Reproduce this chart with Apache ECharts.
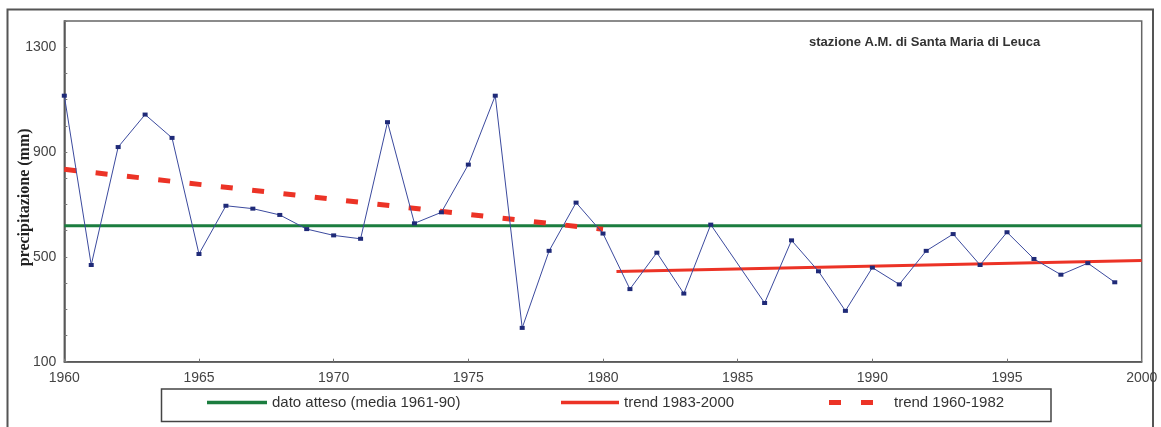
<!DOCTYPE html>
<html>
<head>
<meta charset="utf-8">
<script src="https://cdn.jsdelivr.net/npm/echarts@6/dist/echarts.min.js"></script>
<style>
html,body{margin:0;padding:0;background:#fff;}
#chart{width:1161px;height:427px;}
</style>
</head>
<body>
<div id="chart"></div>
<script>
// ---- data ----
const years = [1960,1961,1962,1963,1964,1965,1966,1967,1968,1969,
               1970,1971,1972,1973,1974,1975,1976,1977,1978,1979,
               1980,1981,1982,1983,1984,1985,1986,1987,1988,1989,
               1990,1991,1992,1993,1994,1995,1996,1997,1998,1999];
const precipitation = [1115,469,919,1043,954,511,695,684,660,606,
                       582,569,1014,628,670,852,1115,229,523,707,
                       589,377,516,360,623,null,324,563,445,294,
                       459,395,523,587,469,594,492,432,476,403];
const mediaX = [1960, 2000];
const mediaY = [619, 619];
const trend8300X = [1980.5, 2000];
const trend8300Y = [444, 486];
const trend6082X = [1960, 1980];
const trend6082Y = [834, 605];
const yLabels = [100, 500, 900, 1300];
const titleText = 'stazione A.M. di Santa Maria di Leuca';
const yName = 'precipitazione (mm)';
const names = ['dato atteso (media 1961-90)', 'trend 1983-2000', 'trend 1960-1982'];

const pairs = (xs, ys) => xs.map((x, i) => [x, ys[i]]);

const GREEN = '#1b7d3f';
const RED = '#ec3326';
const BLUE = '#3b4a9e';

const chart = echarts.init(document.getElementById('chart'));
const legendBase = {
  orient: 'horizontal', padding: 0, itemGap: 0,
  textStyle: {fontFamily: 'Liberation Sans', fontSize: 15, color: '#333'},
  selectedMode: false
};
chart.setOption({
  animation: false,
  backgroundColor: '#fff',
  title: {
    text: titleText, left: 809, top: 36, padding: 0,
    textStyle: {fontFamily: 'Liberation Sans', fontSize: 13, fontWeight: 'bold', color: '#333'}
  },
  grid: {
    left: 64.3, right: 19.3, top: 21, bottom: 65.3,
    containLabel: false, outerBoundsMode: 'none',
    show: true, borderColor: '#666', borderWidth: 1.5, backgroundColor: '#fff'
  },
  xAxis: {
    type: 'value', min: 1960, max: 2000, interval: 5,
    axisLine: {lineStyle: {color: '#555', width: 1.5}},
    axisTick: {inside: true, length: 3, lineStyle: {color: '#777'}},
    axisLabel: {fontFamily: 'Liberation Sans', fontSize: 14, color: '#444', margin: 9, showMaxLabel: true,
      formatter: v => String(v)},
    splitLine: {show: false}
  },
  yAxis: {
    type: 'value', min: 100, max: 1400, interval: 100,
    name: yName, nameLocation: 'middle', nameRotate: 90, nameGap: 31, nameMoveOverlap: false,
    nameTextStyle: {fontFamily: 'Liberation Serif', fontSize: 16, fontWeight: 'bold', color: '#222', padding: [0, 12, 0, 0]},
    axisLine: {show: true, lineStyle: {color: '#555', width: 1.5}},
    axisTick: {show: true, inside: true, length: 3, lineStyle: {color: '#777'}},
    axisLabel: {
      fontFamily: 'Liberation Sans', fontSize: 14, color: '#444', margin: 8,
      formatter: v => (yLabels.indexOf(v) >= 0 ? String(v) : '')
    },
    splitLine: {show: false}
  },
  legend: [
    Object.assign({}, legendBase, {left: 207, top: 395, data: [names[0]], itemWidth: 60, itemHeight: 3.5, icon: 'rect'}),
    Object.assign({}, legendBase, {left: 561, top: 395, data: [names[1]], itemWidth: 58, itemHeight: 3.5, icon: 'rect'}),
    Object.assign({}, legendBase, {left: 829, top: 395, data: [names[2]], itemWidth: 44, itemHeight: 5,
      icon: 'path://M0,0h12v5h-12zM32,0h12v5h-12z',
      textStyle: Object.assign({}, legendBase.textStyle, {padding: [0, 0, 0, 16]})})
  ],
  graphic: [
    {type: 'rect', shape: {x: 7.5, y: 9.5, width: 1145.5, height: 425}, style: {fill: 'none', stroke: '#555', lineWidth: 2}, silent: true, z: -1},
    {type: 'rect', shape: {x: 161.5, y: 389, width: 889.5, height: 32.5}, style: {fill: 'none', stroke: '#444', lineWidth: 1.5}, silent: true}
  ],
  series: [
    {
      name: 'precipitazione', type: 'line', data: pairs(years, precipitation),
      connectNulls: true, symbol: 'rect', symbolSize: [5, 4], showSymbol: true,
      lineStyle: {color: BLUE, width: 1}, itemStyle: {color: '#1f2a78'}, z: 5
    },
    {
      name: names[0], type: 'line', data: pairs(mediaX, mediaY), symbol: 'none',
      lineStyle: {color: GREEN, width: 3}, itemStyle: {color: GREEN}, z: 3
    },
    {
      name: names[1], type: 'line', data: pairs(trend8300X, trend8300Y), symbol: 'none',
      lineStyle: {color: RED, width: 3}, itemStyle: {color: RED}, z: 4
    },
    {
      name: names[2], type: 'line', data: pairs(trend6082X, trend6082Y), symbol: 'none',
      lineStyle: {color: RED, width: 5, type: [12, 19.5]}, itemStyle: {color: RED}, z: 4
    }
  ]
});
</script>
</body>
</html>
